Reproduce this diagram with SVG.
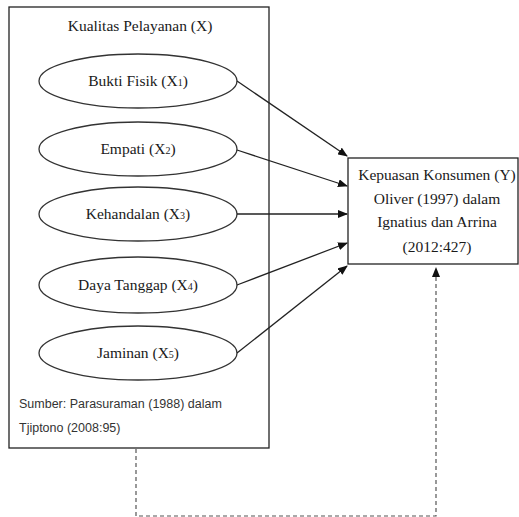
<svg xmlns="http://www.w3.org/2000/svg" width="519" height="517" viewBox="0 0 519 517">
<style>
.box{fill:#fff;stroke:#222;stroke-width:1.3}
.ell{fill:#fff;stroke:#333;stroke-width:1.3}
.t{font-family:'Liberation Serif','DejaVu Serif',serif;font-size:15.5px;fill:#1a1a1a;text-anchor:middle}
.s{font-size:10px}
.src{font-family:'Liberation Sans',sans-serif;font-size:12.5px;fill:#333}
.c{stroke:#222;stroke-width:1.3;fill:none}
.d{stroke:#555;stroke-width:1.2;fill:none;stroke-dasharray:4 3}
</style>
<defs>
<marker id="ah" markerWidth="10" markerHeight="8" refX="9" refY="4" orient="auto" markerUnits="userSpaceOnUse">
<path d="M0,0 L10,4 L0,8 Z" fill="#111"/>
</marker>
</defs>
<rect width="519" height="517" fill="#fff"/>
<g id="kualitas">
<rect class="box" x="9" y="7" width="260" height="441"/>
<text class="t" x="140" y="31">Kualitas Pelayanan (X)</text>
<text class="src" x="19" y="408">Sumber: Parasuraman (1988) dalam</text>
<text class="src" x="19" y="432">Tjiptono (2008:95)</text>
</g>
<g id="x1"><ellipse class="ell" cx="138" cy="81" rx="99" ry="27"/><text class="t" x="138" y="86">Bukti Fisik (X<tspan class="s">1</tspan>)</text></g>
<g id="x2"><ellipse class="ell" cx="138" cy="149" rx="99" ry="27"/><text class="t" x="138" y="154">Empati (X<tspan class="s">2</tspan>)</text></g>
<g id="x3"><ellipse class="ell" cx="138" cy="214" rx="99" ry="27"/><text class="t" x="138" y="219">Kehandalan (X<tspan class="s">3</tspan>)</text></g>
<g id="x4"><ellipse class="ell" cx="138" cy="285" rx="99" ry="28"/><text class="t" x="138" y="290">Daya Tanggap  (X<tspan class="s">4</tspan>)</text></g>
<g id="x5"><ellipse class="ell" cx="138" cy="353" rx="99" ry="27"/><text class="t" x="138" y="358">Jaminan (X<tspan class="s">5</tspan>)</text></g>
<g id="y">
<rect class="box" x="348" y="158" width="170" height="106"/>
<text class="t" x="437" y="180">Kepuasan Konsumen (Y)</text>
<text class="t" x="437" y="204">Oliver (1997) dalam</text>
<text class="t" x="437" y="227">Ignatius dan Arrina</text>
<text class="t" x="437" y="252">(2012:427)</text>
</g>
<g id="connectors">
<line class="c" x1="237" y1="81" x2="347" y2="156" marker-end="url(#ah)"/>
<line class="c" x1="237" y1="150" x2="347" y2="186" marker-end="url(#ah)"/>
<line class="c" x1="237" y1="214" x2="347" y2="214" marker-end="url(#ah)"/>
<line class="c" x1="237" y1="285" x2="347" y2="243" marker-end="url(#ah)"/>
<line class="c" x1="237" y1="353" x2="347" y2="266" marker-end="url(#ah)"/>
<path class="d" d="M136,449 V516 H436 V268" marker-end="url(#ah)"/>
</g>
</svg>
